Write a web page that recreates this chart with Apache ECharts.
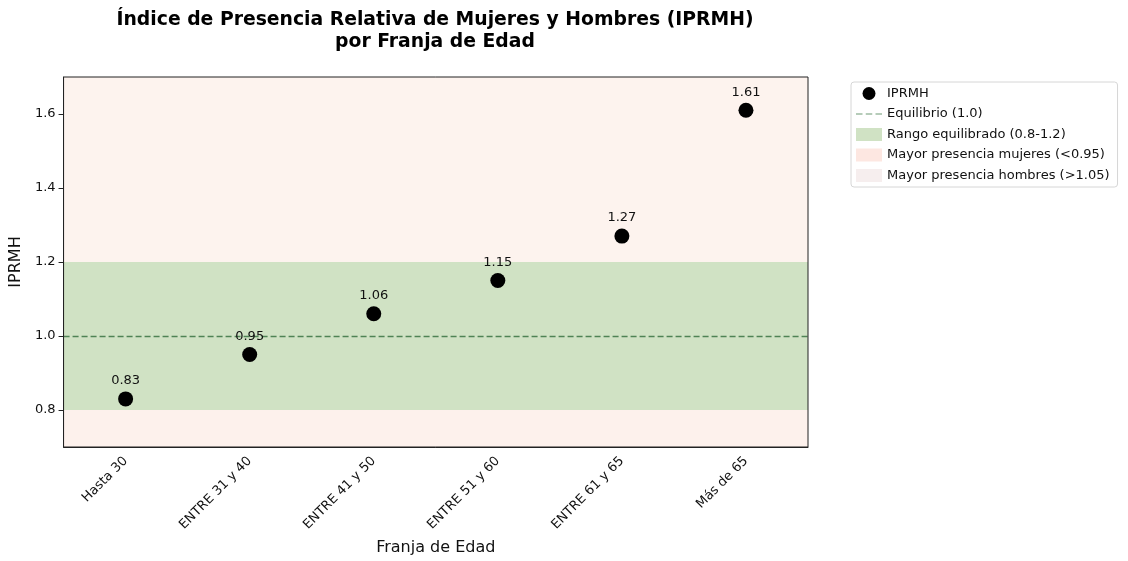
<!DOCTYPE html>
<html>
<head>
<meta charset="utf-8">
<script src="https://cdn.jsdelivr.net/npm/echarts@6/dist/echarts.min.js"></script>
<style>
  html, body { margin: 0; padding: 0; background: #fff; }
  #chart { width: 1128px; height: 561px; }
</style>
</head>
<body>
<div id="chart"></div>
<script>
const categories = ['Hasta 30', 'ENTRE 31 y 40', 'ENTRE 41 y 50', 'ENTRE 51 y 60', 'ENTRE 61 y 65', 'Más de 65']
const iprmh = [0.83, 0.95, 1.06, 1.15, 1.27, 1.61]
const yTicks = [0.8, 1.0, 1.2, 1.4, 1.6]
const equilibrio = 1.0
const rangoEquilibrado = [0.8, 1.2]
const bandaMujeres = [0.7, 0.95]
const bandaHombres = [1.05, 1.7]

const font = 'DejaVu Sans'
const dashColor = '#4f8355'
const chart = echarts.init(document.getElementById('chart'))

chart.setOption({
  animation: false,
  textStyle: { fontFamily: font },
  graphic: [{
    type: 'text',
    x: 435, y: 9,
    style: {
      text: 'Índice de Presencia Relativa de Mujeres y Hombres (IPRMH)\npor Franja de Edad',
      fontFamily: font, fontSize: 18.8, fontWeight: 'bold', fill: '#000',
      textAlign: 'center', lineHeight: 22
    }
  }],
  legend: {
    orient: 'vertical',
    left: 851, top: 82,
    padding: [5, 8, 5, 5],
    itemGap: 7.5,
    itemWidth: 26, itemHeight: 13,
    backgroundColor: '#fff',
    borderColor: '#d6d6d6', borderWidth: 1, borderRadius: 3,
    textStyle: { fontFamily: font, fontSize: 13, color: '#111' },
    data: [
      { name: 'IPRMH', icon: 'circle', itemStyle: { color: '#000', opacity: 1 } },
      { name: 'Equilibrio (1.0)', icon: 'path://M0,0h6v1h-6z M9,0h6v1h-6z M18,0h6v1h-6z', itemStyle: { color: '#6f9a74' } },
      { name: 'Rango equilibrado (0.8-1.2)', icon: 'rect', itemStyle: { color: '#d0e2c4' } },
      { name: 'Mayor presencia mujeres (<0.95)', icon: 'rect', itemStyle: { color: '#fde7e1' } },
      { name: 'Mayor presencia hombres (>1.05)', icon: 'rect', itemStyle: { color: '#f6eeee' } }
    ]
  },
  grid: {
    left: 63, right: 320, top: 77, bottom: 111, z: 10,
    show: true, borderColor: '#222', borderWidth: 1, backgroundColor: 'transparent'
  },
  xAxis: {
    type: 'category',
    data: categories,
    boundaryGap: true,
    z: 10,
    name: 'Franja de Edad',
    nameLocation: 'middle',
    nameGap: 93,
    nameTextStyle: { fontFamily: font, fontSize: 16, color: '#111' },
    axisLine: { lineStyle: { color: '#222' } },
    axisTick: { alignWithLabel: true, length: 5, lineStyle: { color: '#222' } },
    axisLabel: { rotate: 45, fontSize: 13, color: '#111', margin: 12, interval: 0 }
  },
  yAxis: {
    type: 'value',
    min: 0.7, max: 1.7,
    z: 10,
    name: 'IPRMH',
    nameLocation: 'middle',
    nameGap: 37,
    nameTextStyle: { fontFamily: font, fontSize: 16, color: '#111' },
    splitLine: { show: false },
    axisLine: { show: true, lineStyle: { color: '#222' } },
    axisTick: { show: true, length: 5, customValues: yTicks, lineStyle: { color: '#222' } },
    axisLabel: { fontSize: 13, color: '#111', margin: 8, customValues: yTicks, formatter: v => v.toFixed(1) }
  },
  series: [
    {
      name: 'Mayor presencia mujeres (<0.95)',
      type: 'line', data: [], z: 1,
      markArea: { silent: true, itemStyle: { color: '#fdf1ec' }, data: [[{ yAxis: bandaMujeres[0] }, { yAxis: bandaMujeres[1] }]] }
    },
    {
      name: 'Mayor presencia hombres (>1.05)',
      type: 'line', data: [], z: 1,
      markArea: { silent: true, itemStyle: { color: '#fdf3ee' }, data: [[{ yAxis: bandaHombres[0] }, { yAxis: bandaHombres[1] }]] }
    },
    {
      name: 'Rango equilibrado (0.8-1.2)',
      type: 'line', data: [], z: 2,
      markArea: { silent: true, itemStyle: { color: '#d0e2c4' }, data: [[{ yAxis: rangoEquilibrado[0] }, { yAxis: rangoEquilibrado[1] }]] }
    },
    {
      name: 'Equilibrio (1.0)',
      type: 'line', data: [], z: 3,
      symbol: 'none',
      lineStyle: { color: dashColor, type: [5, 3], width: 1.2 },
      itemStyle: { color: dashColor },
      markLine: {
        silent: true, symbol: 'none', label: { show: false },
        lineStyle: { color: dashColor, type: [6, 3], width: 1.3 },
        data: [{ yAxis: equilibrio }]
      }
    },
    {
      name: 'IPRMH',
      type: 'scatter', z: 5,
      data: iprmh,
      symbolSize: 15,
      itemStyle: { color: '#000', opacity: 1 },
      label: {
        show: true, position: 'top', distance: 4,
        fontSize: 13, color: '#111', fontFamily: font,
        formatter: p => p.value.toFixed(2)
      }
    }
  ]
})
</script>
</body>
</html>
